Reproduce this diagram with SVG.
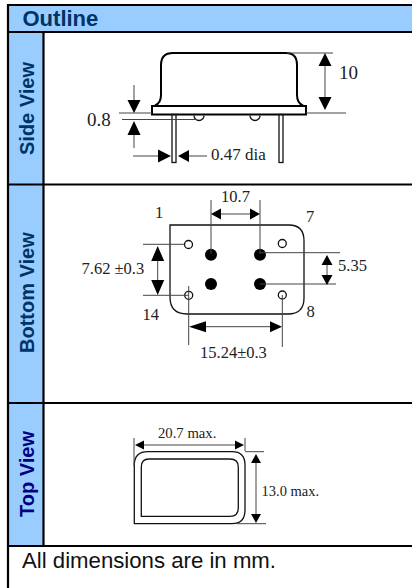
<svg xmlns="http://www.w3.org/2000/svg" width="412" height="588" viewBox="0 0 412 588">
<style>
.hd{font-family:"Liberation Sans",Arial,sans-serif;font-weight:bold;fill:#003366}
.t{font-family:"Liberation Serif","Times New Roman",serif;fill:#222}
.o{fill:none;stroke:#111;stroke-width:1.3}
.b{fill:none;stroke:#000;stroke-width:2}
.d{fill:none;stroke:#444;stroke-width:1}
.a{fill:#000}
</style>
<rect width="412" height="588" fill="#fff"/>
<g id="table">
<rect x="8" y="5" width="404" height="27" fill="#99ccff"/>
<rect x="8" y="32" width="35.500" height="513" fill="#99ccff"/>
<path d="M8 4V588M7 5H412M7 32H412M43.500 32V546M7 184.500H412M7 403H412M7 546H412" fill="none" stroke="#000" stroke-width="2.200"/>
<text class="hd" x="22.500" y="26" font-size="22">Outline</text>
<text class="hd" transform="translate(33.500 155) rotate(-90)" font-size="20">Side View</text>
<text class="hd" transform="translate(33.500 353) rotate(-90)" font-size="20">Bottom View</text>
<text class="hd" transform="translate(33.500 517) rotate(-90)" font-size="20" style="fill:#000080">Top View</text>
<text x="22" y="568" font-size="22.200" font-family="Liberation Sans,Arial,sans-serif" fill="#111">All dimensions are in mm.</text>
</g>
<g id="side-view">
<path class="b" d="M155 105.500Q161 103 161 95L161 65Q161 53 173 53L286 53Q297 53 297 65L297 95Q297 103 303 105.500"/>
<rect class="b" x="152" y="106" width="154" height="8.500"/>
<rect class="o" x="172" y="114.500" width="4" height="48"/>
<rect class="o" x="279" y="114.500" width="4" height="48"/>
<path class="o" d="M194 115.500A5 5 0 0 0 204 115.500M250 115.500A5 5 0 0 0 260 115.500"/>
<path class="d" d="M287 53H333M306 113H346M119 113H152M122 119.500H197M325 60V104M134 85V101M134 134V148M133 156H158M189 156H207"/>
<path class="a" d="M325 53l6.500 13h-13zM325 110l6.500-13h-13zM134 113l-6.500-13h13zM134 121l-6.500 14h13zM171 156l-13-6.500v13zM178 156l11-6v12z"/>
<text class="t" x="87" y="126" font-size="19">0.8</text>
<text class="t" x="339" y="79" font-size="19">10</text>
<text class="t" x="211" y="160" font-size="17">0.47 dia</text>
</g>
<g id="bottom-view">
<path class="o" d="M170 225H289Q304 225 304 241V298Q304 314 288 314H187Q170 314 170 297Z"/>
<circle class="o" cx="188.500" cy="244.500" r="4"/>
<circle class="o" cx="282.300" cy="243.500" r="4"/>
<circle class="o" cx="188.700" cy="295.300" r="4"/>
<circle class="o" cx="282.300" cy="295" r="4"/>
<circle cx="211" cy="254.700" r="6"/>
<circle cx="260" cy="254.700" r="6"/>
<circle cx="211" cy="284" r="6"/>
<circle cx="260" cy="284" r="6"/>
<path class="d" d="M211 200V254M260 200V254M221 214H250M143 244.300H184M143 295.300H188M157.700 260V282M260 252.700H340M260 284H336M327 264V276M188.700 286V345M282.300 295V347M205 326.700H271"/>
<path class="a" d="M211 214l10-5.500v11zM260 214l-10-5.500v11zM157.700 246l6.500 15h-13zM157.700 295l6.500-15h-13zM327 255l5.500 10h-11zM327 285l5.500-10h-11zM189 326.700l17-5.500v11zM282 326.700l-12-5.500v11z"/>
<text class="t" x="221" y="201.500" font-size="16.500">10.7</text>
<text class="t" x="155" y="218" font-size="16.500">1</text>
<text class="t" x="306" y="221.500" font-size="16.500">7</text>
<text class="t" x="81.500" y="274" font-size="16.500">7.62 ±0.3</text>
<text class="t" x="338" y="271" font-size="16.500">5.35</text>
<text class="t" x="142.500" y="320" font-size="16.500">14</text>
<text class="t" x="306.500" y="317" font-size="16.500">8</text>
<text class="t" x="200" y="358" font-size="16.500">15.24±0.3</text>
</g>
<g id="top-view">
<path class="o" d="M134.300 466V465Q134.300 451.700 148 451.700H232Q245 451.700 245 465V510Q245 523.700 232 523.700H134.300Z"/>
<path class="o" d="M141.300 467Q141.300 459 149 459H230Q238.300 459 238.300 467V508Q238.300 516.300 230 516.300H141.300Z"/>
<path class="d" d="M134 438V466M245 438V451M245 451.700H264M237 523.700H266M142 445H237M256 462V516"/>
<path class="a" d="M135 445l9-4.500v9zM244 445l-9-4.500v9zM256 454l5 9h-10zM256 523l5-9h-10z"/>
<text class="t" x="158" y="437.500" font-size="14.700">20.7 max.</text>
<text class="t" x="261.500" y="496" font-size="14.500">13.0 max.</text>
</g>
</svg>
